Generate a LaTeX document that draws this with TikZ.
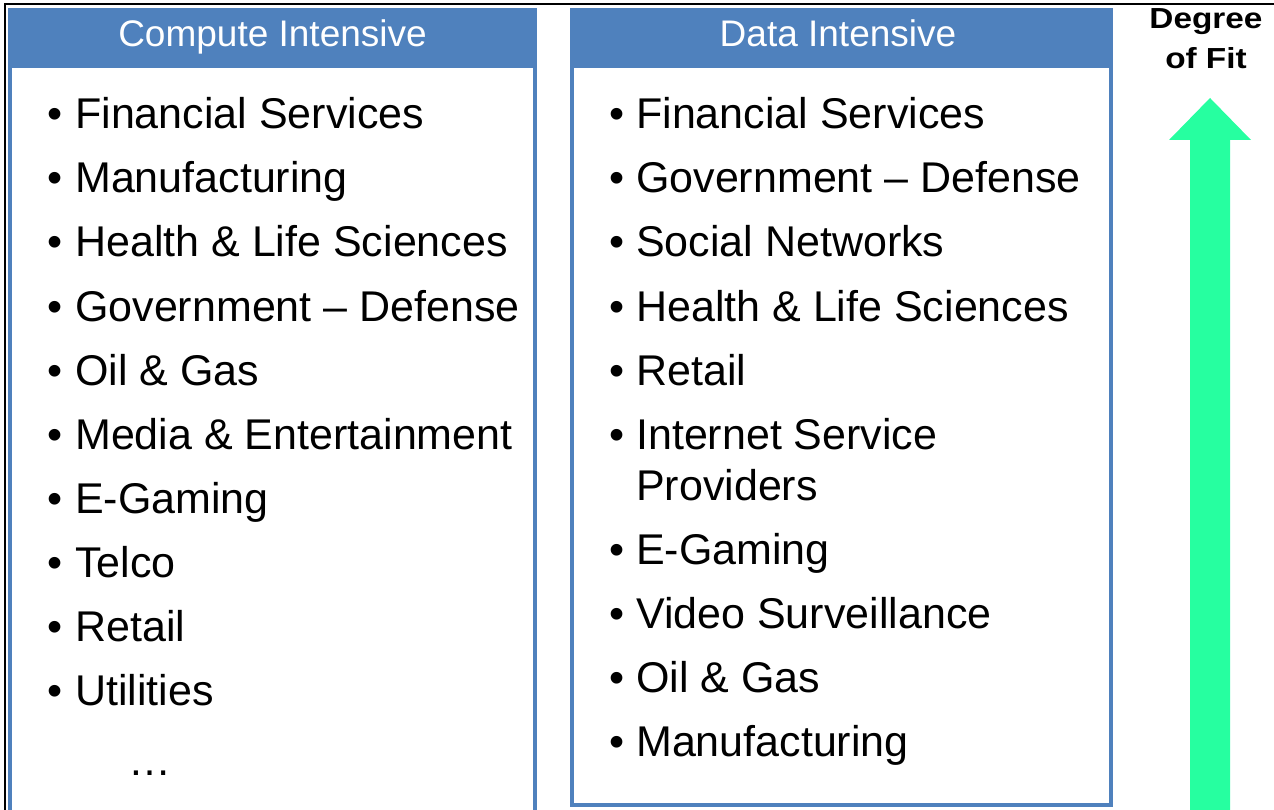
\documentclass[tikz,border=0pt]{standalone}
\usepackage{fontspec}
\setmainfont{Liberation Sans}
\definecolor{hdrblue}{RGB}{79,129,189}
\definecolor{fitgreen}{RGB}{38,255,160}
\tikzset{
  panel/.style={draw=hdrblue, line width=4pt, fill=white},
  header/.style={fill=hdrblue, draw=hdrblue, line width=4pt},
  hdrtext/.style={anchor=base, text=white, font=\fontsize{37}{40}\selectfont, inner sep=0pt},
  item/.style={anchor=base west, inner sep=0pt, font=\fontsize{43}{46}\selectfont},
  bul/.style={anchor=base west, inner sep=0pt, font=\fontsize{43}{46}\selectfont},
  fittext/.style={anchor=base, font=\bfseries\fontsize{29}{34}\selectfont, inner sep=0pt},
}
\begin{document}
\begin{tikzpicture}[x=1pt,y=-1pt]
\useasboundingbox (0,0) rectangle (1274,810);
\fill[white] (0,0) rectangle (1274,810);
% outer frame
\draw[black, line width=1.5pt] (5,830) -- (5,4) -- (1290,4);
% left panel
\draw[panel] (10,10) rectangle (535,830);
\draw[header] (10,10) rectangle (535,66);
\node[hdrtext] (lh) at (272.5,47) {Compute Intensive};
% right panel
\draw[panel] (572,10) rectangle (1111,805);
\draw[header] (572,10) rectangle (1111,66);
\node[hdrtext] (rh) at (838,47) {Data Intensive};
% left items
\foreach \t [count=\i from 0] in {Financial Services,Manufacturing,Health \& Life Sciences,Government -- Defense,Oil \& Gas,Media \& Entertainment,E-Gaming,Telco,Retail,Utilities}{
  \node[bul] (lb\i) at (47,{129+64*\i}) {•};
  \node[item] (li\i) at (75,{129+64*\i}) {\t};
}
\node[item] (ldots) at (128,775) {…};
% right items
\foreach \t/\y [count=\i from 0] in {Financial Services/129,Government -- Defense/193,Social Networks/257,Health \& Life Sciences/321,Retail/385,Internet Service/449,E-Gaming/564,Video Surveillance/628,Oil \& Gas/692,Manufacturing/756}{
  \node[bul] (rb\i) at (609,\y) {•};
  \node[item] (ri\i) at (636,\y) {\t};
}
\node[item] (rprov) at (636,500) {Providers};
% degree of fit
\node[fittext] (fit1) at (1206,29) {\scalebox{1.15}[1]{Degree}};
\node[fittext] (fit2) at (1206,69) {\scalebox{1.15}[1]{of Fit}};
\fill[fitgreen] (1210,98) -- (1251,140) -- (1230,140) -- (1230,812) -- (1190,812) -- (1190,140) -- (1169,140) -- cycle;
\end{tikzpicture}
\end{document}
